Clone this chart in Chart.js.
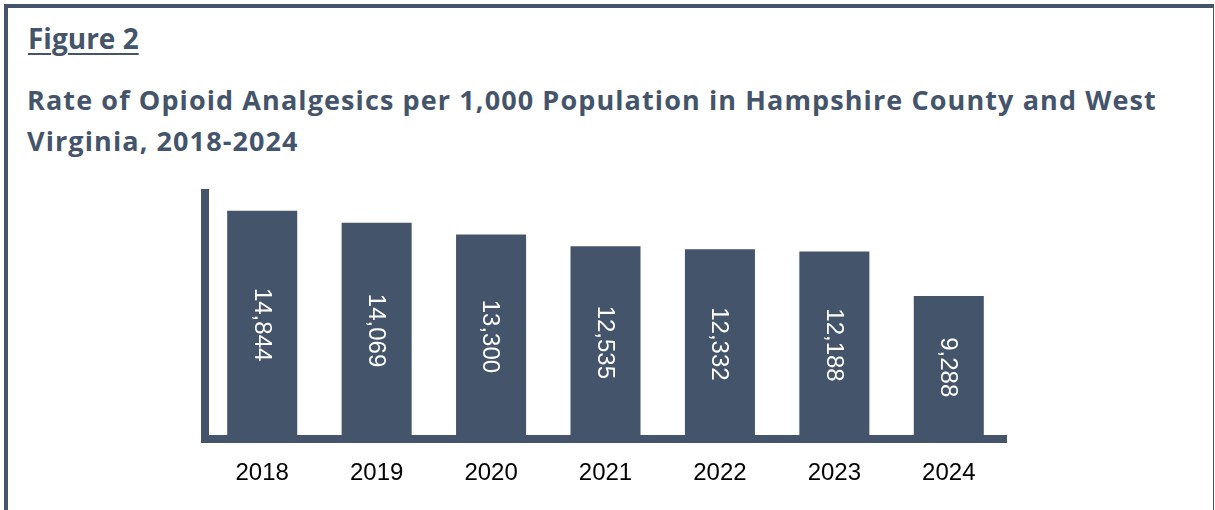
<!DOCTYPE html>
<html>
<head>
<meta charset="utf-8">
<script src="https://cdn.jsdelivr.net/npm/chart.js@4.4.1/dist/chart.umd.min.js"></script>
<style>
  html, body { margin: 0; padding: 0; background: #fff; }
  body { width: 1215px; height: 510px; position: relative; overflow: hidden; }
  #frame {
    position: absolute; left: 4px; top: 4px; width: 1205px; height: 600px;
    border-top: 4px solid #44546A; border-left: 4px solid #44546A; border-right: 1px solid #44546A;
  }
  .txt { position: absolute; left: 27px; font-family: "Open Sans", sans-serif; font-weight: 700; color: #44546A; white-space: nowrap; }
  #fig { top: 19px; left: 28px; font-size: 28px; line-height: 38px; text-decoration: underline; text-underline-offset: 4px; text-decoration-thickness: 2px; }
  #title { top: 80px; font-size: 27px; line-height: 40.5px; letter-spacing: 1.1px; }
  #chart { position: absolute; left: 0; top: 0; }
</style>
</head>
<body>
<div id="frame"></div>
<div class="txt" id="fig">Figure 2</div>
<div class="txt" id="title">Rate of Opioid Analgesics per 1,000 Population in Hampshire County and West<br>Virginia, 2018-2024</div>
<canvas id="chart" width="1215" height="510"></canvas>
<script>
// rate per 1,000 population, one bar per year
const years = ["2018", "2019", "2020", "2021", "2022", "2023", "2024"];
const rates = [14844, 14069, 13300, 12535, 12332, 12188, 9288];
const yMax = 16000;

const slate = "#44546A";

// white value labels turned on their side inside each bar
const barLabels = {
	id: "barLabels",
	afterDatasetsDraw(chart) {
		let ctx = chart.ctx;
		let meta = chart.getDatasetMeta(0);
		ctx.save();
		ctx.fillStyle = "#fff";
		ctx.font = "24px 'Liberation Sans', Arial, sans-serif";
		ctx.textAlign = "center";
		ctx.textBaseline = "middle";
		meta.data.forEach((bar, i) => {
			let mid = (bar.y + bar.base) / 2;
			ctx.save();
			ctx.translate(bar.x, mid);
			ctx.rotate(Math.PI / 2);
			ctx.fillText(rates[i].toLocaleString("en-US"), 0, 1);
			ctx.restore();
		});
		ctx.restore();
	}
};

let ctx = document.getElementById("chart").getContext("2d");
let myChart = new Chart(ctx, {
	type: "bar",
	data: {
		labels: years,
		datasets: [{
			data: rates,
			backgroundColor: slate,
			borderWidth: 0,
			categoryPercentage: 1,
			barPercentage: 0.612
		}]
	},
	options: {
		responsive: false,
		animation: false,
		layout: { padding: { left: 205, right: 209, top: 193, bottom: 0 } },
		plugins: { legend: { display: false }, tooltip: { enabled: false } },
		scales: {
			x: {
				grid: { display: false, drawTicks: false },
				border: { display: true, color: slate, width: 8 },
				ticks: {
					color: "#000",
					padding: 20,
					font: { family: "'Liberation Sans', Arial, sans-serif", size: 24 }
				},
				afterFit: scale => { scale.height = 71.5; }
			},
			y: {
				min: 0,
				max: yMax,
				grid: { display: false, drawTicks: false },
				border: { display: true, color: slate, width: 8 },
				ticks: { display: false },
				afterFit: scale => { scale.width = 0; }
			}
		}
	},
	plugins: [barLabels]
});
</script>
</body>
</html>
